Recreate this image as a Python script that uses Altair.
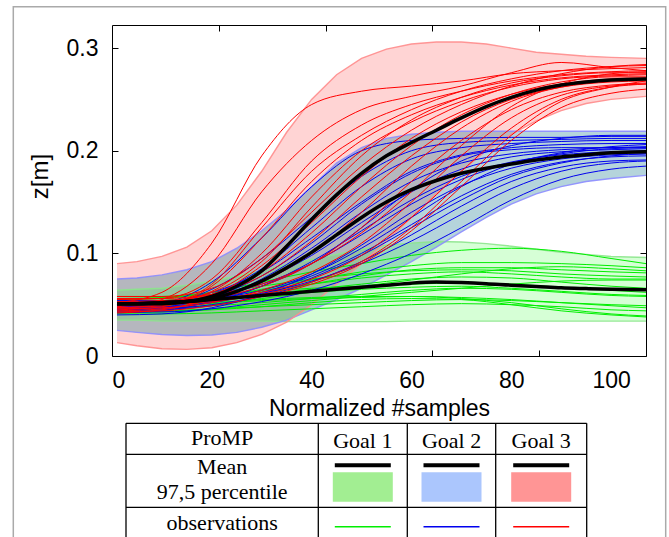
import altair as alt
import pandas as pd

# ---------------- data ----------------
GOAL_NAMES = ["Goal 1", "Goal 2", "Goal 3"]

X_BAND = [1, 5, 10, 15, 20, 25, 30, 35, 40, 45, 50, 55, 60, 65, 70, 75, 80, 85, 90, 95, 100, 107]
X_OBS = [1, 10, 20, 30, 40, 50, 60, 70, 80, 90, 100, 107]

X_TICK_LABELS = [0, 20, 40, 60, 80, 100]
X_TICKS = [21.4, 42.8, 64.2, 85.6]
Y_TICKS = [0, 0.1, 0.2, 0.3]

GOAL1_MEAN = [0.051, 0.051, 0.052, 0.053, 0.055, 0.057, 0.059, 0.061, 0.063, 0.065, 0.067, 0.069,
              0.071, 0.072, 0.0715, 0.0705, 0.069, 0.0678, 0.0665, 0.0657, 0.065, 0.0645]
GOAL1_LOW = [0.035, 0.035, 0.034, 0.034, 0.034, 0.034, 0.034, 0.0335, 0.0335, 0.0335, 0.0335, 0.0335,
             0.034, 0.034, 0.034, 0.034, 0.034, 0.034, 0.034, 0.034, 0.034, 0.034]
GOAL1_HIGH = [0.064, 0.065, 0.066, 0.069, 0.073, 0.078, 0.083, 0.089, 0.094, 0.099, 0.104, 0.108,
              0.110, 0.1115, 0.111, 0.1095, 0.107, 0.104, 0.101, 0.099, 0.097, 0.096]

GOAL2_MEAN = [0.051, 0.051, 0.051, 0.053, 0.056, 0.063, 0.073, 0.086, 0.101, 0.118, 0.135, 0.150,
              0.162, 0.171, 0.178, 0.183, 0.187, 0.191, 0.194, 0.196, 0.198, 0.199]
GOAL2_LOW = [0.025, 0.023, 0.021, 0.020, 0.0205, 0.023, 0.028, 0.035, 0.045, 0.055, 0.066, 0.079,
             0.092, 0.106, 0.121, 0.135, 0.148, 0.158, 0.165, 0.170, 0.173, 0.176]
GOAL2_HIGH = [0.075, 0.076, 0.079, 0.084, 0.092, 0.105, 0.122, 0.142, 0.165, 0.188, 0.203, 0.212,
              0.216, 0.218, 0.219, 0.219, 0.219, 0.219, 0.219, 0.219, 0.219, 0.219]

GOAL3_MEAN = [0.051, 0.051, 0.052, 0.053, 0.058, 0.068, 0.083, 0.107, 0.133, 0.157, 0.178, 0.195,
              0.208, 0.220, 0.232, 0.243, 0.252, 0.259, 0.264, 0.267, 0.269, 0.270]
GOAL3_LOW = [0.013, 0.010, 0.007, 0.0065, 0.008, 0.013, 0.021, 0.033, 0.050, 0.070, 0.090, 0.112,
             0.135, 0.158, 0.180, 0.200, 0.216, 0.229, 0.239, 0.246, 0.250, 0.253]
GOAL3_HIGH = [0.090, 0.092, 0.097, 0.106, 0.122, 0.147, 0.180, 0.218, 0.250, 0.274, 0.290, 0.299,
              0.304, 0.306, 0.306, 0.304, 0.300, 0.296, 0.294, 0.292, 0.291, 0.290]

GOAL1_OBS = [
    [0.055, 0.056, 0.062, 0.072, 0.082, 0.090, 0.098, 0.103, 0.105, 0.102, 0.095, 0.090],
    [0.050, 0.051, 0.056, 0.065, 0.074, 0.082, 0.088, 0.091, 0.091, 0.090, 0.088, 0.086],
    [0.045, 0.046, 0.050, 0.056, 0.062, 0.068, 0.074, 0.080, 0.085, 0.087, 0.085, 0.083],
    [0.058, 0.058, 0.062, 0.068, 0.075, 0.080, 0.083, 0.084, 0.083, 0.080, 0.078, 0.077],
    [0.042, 0.043, 0.046, 0.050, 0.054, 0.058, 0.062, 0.066, 0.070, 0.073, 0.074, 0.074],
    [0.052, 0.052, 0.055, 0.060, 0.065, 0.070, 0.075, 0.077, 0.076, 0.072, 0.068, 0.066],
    [0.047, 0.047, 0.049, 0.052, 0.056, 0.060, 0.064, 0.066, 0.065, 0.062, 0.059, 0.058],
    [0.054, 0.054, 0.056, 0.059, 0.062, 0.065, 0.067, 0.068, 0.066, 0.063, 0.060, 0.059],
    [0.044, 0.044, 0.046, 0.048, 0.050, 0.052, 0.054, 0.055, 0.054, 0.052, 0.050, 0.049],
    [0.049, 0.049, 0.051, 0.054, 0.056, 0.057, 0.058, 0.057, 0.055, 0.052, 0.049, 0.047],
    [0.041, 0.041, 0.042, 0.044, 0.046, 0.048, 0.050, 0.051, 0.050, 0.048, 0.045, 0.044],
    [0.056, 0.057, 0.060, 0.063, 0.066, 0.068, 0.070, 0.071, 0.070, 0.067, 0.064, 0.062],
    [0.046, 0.047, 0.052, 0.060, 0.070, 0.078, 0.084, 0.086, 0.086, 0.084, 0.082, 0.081],
    [0.050, 0.050, 0.052, 0.055, 0.057, 0.058, 0.058, 0.056, 0.052, 0.046, 0.041, 0.039],
    [0.043, 0.043, 0.045, 0.048, 0.052, 0.055, 0.056, 0.055, 0.050, 0.044, 0.040, 0.038],
    [0.053, 0.054, 0.058, 0.064, 0.070, 0.076, 0.080, 0.082, 0.080, 0.077, 0.075, 0.075],
]

GOAL2_OBS = [
    [0.048, 0.050, 0.065, 0.095, 0.135, 0.175, 0.200, 0.208, 0.210, 0.211, 0.212, 0.212],
    [0.045, 0.047, 0.060, 0.085, 0.125, 0.165, 0.192, 0.203, 0.207, 0.209, 0.210, 0.210],
    [0.052, 0.053, 0.062, 0.082, 0.115, 0.150, 0.180, 0.196, 0.203, 0.206, 0.207, 0.207],
    [0.042, 0.044, 0.054, 0.075, 0.105, 0.140, 0.170, 0.188, 0.197, 0.201, 0.203, 0.204],
    [0.050, 0.051, 0.058, 0.073, 0.098, 0.130, 0.160, 0.182, 0.194, 0.199, 0.201, 0.202],
    [0.046, 0.047, 0.053, 0.068, 0.092, 0.122, 0.152, 0.175, 0.189, 0.196, 0.199, 0.200],
    [0.054, 0.054, 0.058, 0.070, 0.090, 0.118, 0.148, 0.172, 0.188, 0.197, 0.202, 0.203],
    [0.040, 0.041, 0.047, 0.060, 0.080, 0.108, 0.140, 0.166, 0.183, 0.192, 0.196, 0.197],
    [0.048, 0.048, 0.052, 0.062, 0.078, 0.100, 0.128, 0.156, 0.177, 0.189, 0.194, 0.195],
    [0.044, 0.045, 0.049, 0.058, 0.072, 0.092, 0.118, 0.146, 0.170, 0.184, 0.190, 0.191],
    [0.051, 0.051, 0.054, 0.061, 0.073, 0.090, 0.112, 0.138, 0.163, 0.180, 0.188, 0.190],
    [0.043, 0.043, 0.046, 0.053, 0.064, 0.080, 0.100, 0.125, 0.152, 0.172, 0.182, 0.185],
    [0.049, 0.050, 0.055, 0.068, 0.090, 0.125, 0.162, 0.190, 0.205, 0.212, 0.215, 0.215],
    [0.047, 0.048, 0.057, 0.078, 0.110, 0.148, 0.178, 0.195, 0.201, 0.203, 0.203, 0.203],
    [0.053, 0.053, 0.056, 0.064, 0.080, 0.105, 0.135, 0.165, 0.187, 0.198, 0.204, 0.206],
    [0.045, 0.046, 0.050, 0.059, 0.076, 0.098, 0.125, 0.152, 0.175, 0.188, 0.195, 0.197],
    [0.050, 0.052, 0.072, 0.115, 0.165, 0.200, 0.210, 0.212, 0.213, 0.213, 0.214, 0.214],
]

GOAL3_OBS = [
    [0.052, 0.062, 0.110, 0.195, 0.245, 0.258, 0.263, 0.268, 0.275, 0.278, 0.280, 0.281],
    [0.048, 0.055, 0.090, 0.160, 0.210, 0.240, 0.253, 0.263, 0.276, 0.286, 0.281, 0.278],
    [0.055, 0.056, 0.075, 0.130, 0.190, 0.225, 0.245, 0.258, 0.268, 0.274, 0.277, 0.278],
    [0.045, 0.048, 0.068, 0.115, 0.170, 0.210, 0.235, 0.252, 0.264, 0.271, 0.274, 0.275],
    [0.050, 0.052, 0.063, 0.100, 0.155, 0.200, 0.228, 0.248, 0.262, 0.270, 0.273, 0.274],
    [0.058, 0.058, 0.066, 0.095, 0.140, 0.185, 0.220, 0.245, 0.263, 0.275, 0.282, 0.284],
    [0.042, 0.045, 0.058, 0.088, 0.130, 0.175, 0.212, 0.238, 0.255, 0.265, 0.270, 0.271],
    [0.047, 0.049, 0.060, 0.082, 0.120, 0.165, 0.205, 0.235, 0.255, 0.267, 0.272, 0.272],
    [0.053, 0.054, 0.060, 0.078, 0.112, 0.155, 0.195, 0.228, 0.250, 0.262, 0.267, 0.268],
    [0.044, 0.046, 0.055, 0.072, 0.100, 0.140, 0.185, 0.222, 0.248, 0.262, 0.268, 0.270],
    [0.050, 0.051, 0.056, 0.068, 0.090, 0.125, 0.170, 0.210, 0.240, 0.257, 0.264, 0.266],
    [0.046, 0.047, 0.052, 0.064, 0.082, 0.110, 0.150, 0.195, 0.232, 0.254, 0.263, 0.265],
    [0.051, 0.052, 0.055, 0.062, 0.075, 0.098, 0.135, 0.180, 0.222, 0.250, 0.262, 0.265],
    [0.043, 0.044, 0.049, 0.058, 0.070, 0.090, 0.122, 0.165, 0.210, 0.242, 0.256, 0.260],
    [0.049, 0.050, 0.053, 0.060, 0.072, 0.092, 0.125, 0.170, 0.215, 0.248, 0.262, 0.268],
    [0.056, 0.056, 0.060, 0.070, 0.090, 0.120, 0.160, 0.205, 0.243, 0.265, 0.275, 0.277],
    [0.047, 0.050, 0.070, 0.125, 0.180, 0.215, 0.240, 0.258, 0.270, 0.278, 0.282, 0.283],
    [0.052, 0.053, 0.062, 0.092, 0.145, 0.195, 0.230, 0.252, 0.266, 0.273, 0.276, 0.276],
]

# legend table texts
TABLE_HEADER = "ProMP"
ROW_LABELS = ["Mean", "97,5 percentile", "observations"]

# ---------------- styles / layout ----------------
BAND_FILL = ["#00ff00", "#1a7a90", "#ff0000"]
BAND_OPACITY = [0.16, 0.32, 0.17]
EDGE_COLORS = ["#8ce68c", "#8c8cff", "#ff8c8c"]
OBS_COLORS = ["#00ee00", "#0000ee", "#ff0000"]
LEGEND_FILL = ["#a2ee92", "#abc6fd", "#ff9595"]

W, H = 534, 331
PAD = {"left": 112, "top": 25, "right": 23, "bottom": 181}
SANS = "Liberation Sans"
SERIF = "Liberation Serif"

XS = alt.Scale(domain=[0, 107], nice=False, zero=False)
YS = alt.Scale(domain=[0, 0.3225], nice=False, zero=False)

# ---------------- frames ----------------
band_rows = []
for g, (m, lo, hi) in enumerate([(GOAL1_MEAN, GOAL1_LOW, GOAL1_HIGH),
                                 (GOAL2_MEAN, GOAL2_LOW, GOAL2_HIGH),
                                 (GOAL3_MEAN, GOAL3_LOW, GOAL3_HIGH)]):
    for x, a, b, c in zip(X_BAND, m, lo, hi):
        band_rows.append({"goal": GOAL_NAMES[g], "x": x, "mean": a, "lo": b, "hi": c})
band_df = pd.DataFrame(band_rows)

obs_rows = []
for g, curves in enumerate([GOAL1_OBS, GOAL2_OBS, GOAL3_OBS]):
    for i, c in enumerate(curves):
        for x, y in zip(X_OBS, c):
            obs_rows.append({"goal": GOAL_NAMES[g], "curve": f"{g}-{i}", "x": x, "y": y})
obs_df = pd.DataFrame(obs_rows)

# ---------------- axes ----------------
x_label_axis = alt.Axis(values=X_TICK_LABELS, format="d", ticks=False, tickSize=0, labelPadding=13,
                        labelFontSize=23, labelFont=SANS, labelColor="black", grid=False,
                        domain=True, domainColor="black", domainWidth=1,
                        title="Normalized #samples", titleFont=SANS, titleFontSize=23,
                        titleFontWeight="normal", titleColor="black", titleBaseline="alphabetic",
                        titleY=59, zindex=1)
y_label_axis = alt.Axis(values=Y_TICKS, format="~g", ticks=False, tickSize=0, labelPadding=14,
                        labelFontSize=23, labelFont=SANS, labelColor="black", grid=False,
                        domain=True, domainColor="black", domainWidth=1,
                        title="z[m]", titleFont=SANS, titleFontSize=24, titleFontWeight="normal",
                        titleColor="black", titleAngle=270, titleBaseline="alphabetic",
                        titleX=-65, titleY=151, zindex=1)
x_ticks_bottom_in = alt.Axis(orient="top", offset=-H, values=X_TICKS, labels=False, tickSize=6,
                             tickColor="black", domain=False, grid=False, title=None, zindex=1)
x_ticks_top_in = alt.Axis(orient="bottom", offset=-H, values=X_TICKS, labels=False, tickSize=6,
                          tickColor="black", domain=True, domainColor="black", grid=False,
                          title=None, zindex=1)
y_ticks_left_in = alt.Axis(orient="right", offset=-W, values=Y_TICKS, labels=False, tickSize=6,
                           tickColor="black", domain=False, grid=False, title=None, zindex=1)
y_ticks_right_in = alt.Axis(orient="left", offset=-W, values=Y_TICKS, labels=False, tickSize=6,
                            tickColor="black", domain=True, domainColor="black", grid=False,
                            title=None, zindex=1)

# ---------------- plot layers ----------------
layers = []
for g in [2, 1, 0]:
    d = band_df[band_df.goal == GOAL_NAMES[g]]
    first = (g == 2)
    layers.append(
        alt.Chart(d).mark_area(color=BAND_FILL[g], opacity=BAND_OPACITY[g]).encode(
            x=alt.X("x:Q", scale=XS, axis=x_label_axis if first else None),
            y=alt.Y("lo:Q", scale=YS, axis=y_label_axis if first else None),
            y2="hi:Q",
        )
    )

edges = alt.Chart(band_df).transform_fold(["lo", "hi"], as_=["edge", "val"]).mark_line(
    strokeWidth=1.4, opacity=0.9
).encode(
    x=alt.X("x:Q", scale=XS, axis=None),
    y=alt.Y("val:Q", scale=YS, axis=None),
    color=alt.Color("goal:N", scale=alt.Scale(domain=GOAL_NAMES, range=EDGE_COLORS), legend=None),
    detail="edge:N",
)
layers.append(edges)

for g in [0, 1, 2]:
    d = obs_df[obs_df.goal == GOAL_NAMES[g]]
    layers.append(
        alt.Chart(d).mark_line(color=OBS_COLORS[g], strokeWidth=1, interpolate="monotone").encode(
            x=alt.X("x:Q", scale=XS, axis=x_ticks_bottom_in if g == 0 else None),
            y=alt.Y("y:Q", scale=YS, axis=y_ticks_left_in if g == 0 else None),
            detail="curve:N",
        )
    )

means = alt.Chart(band_df).mark_line(color="black", strokeWidth=3.5, interpolate="monotone").encode(
    x=alt.X("x:Q", scale=XS, axis=x_ticks_top_in),
    y=alt.Y("mean:Q", scale=YS, axis=y_ticks_right_in),
    detail="goal:N",
)
layers.append(means)

# ---------------- legend table (pixel layout relative to plot origin) ----------------
COL_EDGES = [14, 206.3, 295.3, 383.7, 474.7]
ROW_EDGES = [398.3, 429.3, 482.3, 545]
col_centers = [(COL_EDGES[i] + COL_EDGES[i + 1]) / 2 for i in range(4)]
row_centers = [(ROW_EDGES[i] + ROW_EDGES[i + 1]) / 2 for i in range(3)]

grid_rows = []
for yv in ROW_EDGES:
    grid_rows.append({"x": COL_EDGES[0], "x2": COL_EDGES[-1], "y": yv, "y2": yv})
for xv in COL_EDGES:
    grid_rows.append({"x": xv, "x2": xv, "y": ROW_EDGES[0], "y2": ROW_EDGES[-1]})
grid_df = pd.DataFrame(grid_rows)

text_rows = [{"t": TABLE_HEADER, "x": col_centers[0], "y": row_centers[0] - 1}]
for i, gname in enumerate(GOAL_NAMES):
    text_rows.append({"t": gname, "x": col_centers[i + 1], "y": row_centers[0] + 2})
text_rows.append({"t": ROW_LABELS[0], "x": col_centers[0], "y": row_centers[1] - 14})
text_rows.append({"t": ROW_LABELS[1], "x": col_centers[0], "y": row_centers[1] + 11})
text_rows.append({"t": ROW_LABELS[2], "x": col_centers[0], "y": ROW_EDGES[2] + 16})
text_df = pd.DataFrame(text_rows)

mean_bar_rows, swatch_rows, obs_leg_rows = [], [], []
for i in range(3):
    c = col_centers[i + 1]
    mean_bar_rows.append({"x": c - 28, "x2": c + 28, "y": row_centers[1] - 15.5})
    swatch_rows.append({"x": c - 30, "x2": c + 30, "y": row_centers[1] - 8.5, "y2": row_centers[1] + 21,
                        "fill": LEGEND_FILL[i]})
    obs_leg_rows.append({"x": c - 28, "x2": c + 28, "y": ROW_EDGES[2] + 19.5, "col": OBS_COLORS[i]})

PX = dict(scale=None, axis=None)

table_grid = alt.Chart(grid_df).mark_rule(color="black", strokeWidth=1.3).encode(
    x=alt.X("x:Q", **PX), x2="x2:Q", y=alt.Y("y:Q", **PX), y2="y2:Q")
table_text = alt.Chart(text_df).mark_text(font=SERIF, fontSize=22, color="black",
                                          align="center", baseline="middle").encode(
    x=alt.X("x:Q", **PX), y=alt.Y("y:Q", **PX), text="t:N")
table_mean = alt.Chart(pd.DataFrame(mean_bar_rows)).mark_rule(color="black", strokeWidth=4).encode(
    x=alt.X("x:Q", **PX), x2="x2:Q", y=alt.Y("y:Q", **PX))
table_swatch = alt.Chart(pd.DataFrame(swatch_rows)).mark_rect().encode(
    x=alt.X("x:Q", **PX), x2="x2:Q", y=alt.Y("y:Q", **PX), y2="y2:Q",
    fill=alt.Fill("fill:N", scale=None))
table_obs = alt.Chart(pd.DataFrame(obs_leg_rows)).mark_rule(strokeWidth=1.5).encode(
    x=alt.X("x:Q", **PX), x2="x2:Q", y=alt.Y("y:Q", **PX),
    color=alt.Color("col:N", scale=None))

frame = alt.Chart(pd.DataFrame([{"x": -98.7, "x2": 553.7, "y": -18.3, "y2": 560}])).mark_rect(
    fillOpacity=0, stroke="#aaaaaa", strokeWidth=1.5).encode(
    x=alt.X("x:Q", **PX), x2="x2:Q", y=alt.Y("y:Q", **PX), y2="y2:Q")

layers += [frame, table_grid, table_swatch, table_mean, table_obs, table_text]

chart = alt.layer(*layers).resolve_axis(x="independent", y="independent").properties(
    width=W, height=H, autosize=alt.AutoSizeParams(type="none"), padding=PAD,
    background="white",
).configure_view(stroke=None)

chart.save("out.html", embed_options={"renderer": "svg", "actions": False})
